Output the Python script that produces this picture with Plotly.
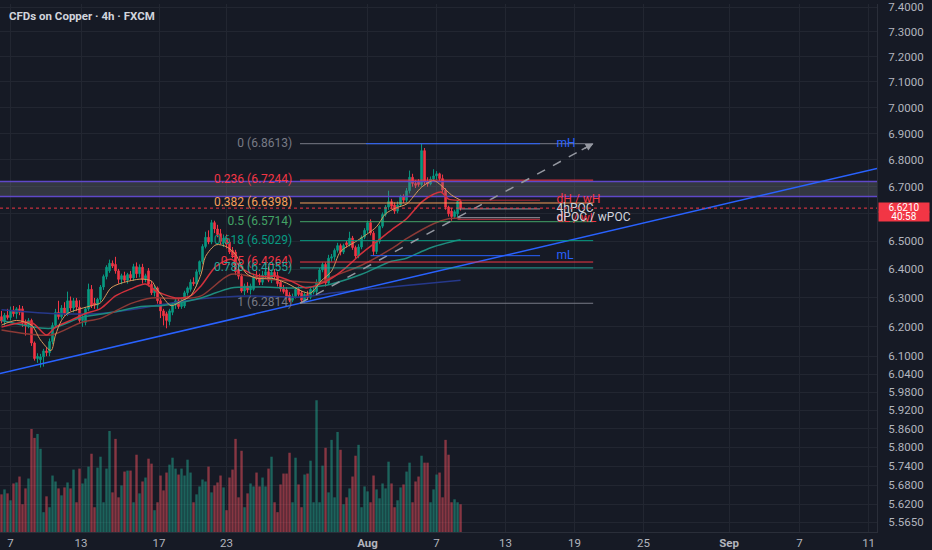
import math
import plotly.graph_objects as go

# TradingView dark theme colours
BG = "#161a25"
GRID = "#222631"
AXIS_TXT = "#b2b5be"
UP = "#089981"
DOWN = "#f23645"
FONT = "Roboto"

# visible window: bar index on x, log price on y
X_LO, X_HI = -0.5, 291.8
P_LO, P_HI = 5.5346, 7.4127

# ---- 4h candles, bar 0 = first visible bar ----
opens = [
    6.235, 6.220, 6.240, 6.232, 6.258, 6.245, 6.262, 6.262, 6.212, 6.205,
    6.222, 6.145, 6.092, 6.088, 6.098, 6.118, 6.112, 6.150, 6.205, 6.250,
    6.235, 6.265, 6.245, 6.290, 6.265, 6.290, 6.268, 6.222, 6.215, 6.262,
    6.330, 6.282, 6.275, 6.295, 6.338, 6.375, 6.395, 6.422, 6.418, 6.395,
    6.365, 6.378, 6.362, 6.382, 6.370, 6.410, 6.385, 6.408, 6.365, 6.395,
    6.348, 6.318, 6.335, 6.290, 6.255, 6.245, 6.218, 6.250, 6.275, 6.290,
    6.270, 6.272, 6.318, 6.330, 6.355, 6.350, 6.392, 6.428, 6.482, 6.515,
    6.498, 6.568, 6.545, 6.528, 6.495, 6.512, 6.498, 6.468, 6.462, 6.400,
    6.376, 6.324, 6.342, 6.328, 6.330, 6.376, 6.372, 6.355, 6.380, 6.392,
    6.362, 6.390, 6.378, 6.355, 6.332, 6.328, 6.310, 6.292, 6.305, 6.330,
    6.318, 6.290, 6.312, 6.302, 6.320, 6.322, 6.355, 6.398, 6.418, 6.352,
    6.440, 6.445, 6.468, 6.485, 6.462, 6.495, 6.488, 6.512, 6.478, 6.448,
    6.480, 6.515, 6.540, 6.568, 6.530, 6.464, 6.500, 6.555, 6.598, 6.625,
    6.645, 6.632, 6.610, 6.632, 6.662, 6.650, 6.685, 6.735, 6.712, 6.718,
    6.708, 6.835, 6.718, 6.710, 6.728, 6.740, 6.748, 6.730, 6.688, 6.625,
    6.610, 6.590, 6.600, 6.645,
]
highs = [
    6.255, 6.248, 6.262, 6.270, 6.272, 6.268, 6.275, 6.272, 6.225, 6.230,
    6.228, 6.150, 6.110, 6.108, 6.125, 6.130, 6.160, 6.215, 6.262, 6.290,
    6.275, 6.285, 6.322, 6.305, 6.300, 6.300, 6.292, 6.240, 6.268, 6.350,
    6.345, 6.300, 6.300, 6.345, 6.382, 6.415, 6.435, 6.432, 6.445, 6.402,
    6.385, 6.392, 6.388, 6.395, 6.420, 6.425, 6.418, 6.420, 6.385, 6.405,
    6.360, 6.345, 6.340, 6.298, 6.262, 6.252, 6.262, 6.285, 6.300, 6.298,
    6.300, 6.325, 6.340, 6.365, 6.372, 6.400, 6.432, 6.490, 6.535, 6.540,
    6.578, 6.575, 6.560, 6.545, 6.525, 6.525, 6.510, 6.480, 6.470, 6.410,
    6.385, 6.350, 6.355, 6.350, 6.385, 6.395, 6.385, 6.395, 6.405, 6.410,
    6.400, 6.402, 6.392, 6.362, 6.345, 6.338, 6.320, 6.315, 6.338, 6.340,
    6.325, 6.318, 6.325, 6.338, 6.342, 6.365, 6.405, 6.425, 6.425, 6.452,
    6.455, 6.475, 6.495, 6.492, 6.492, 6.502, 6.535, 6.520, 6.485, 6.490,
    6.522, 6.548, 6.575, 6.580, 6.538, 6.505, 6.560, 6.605, 6.632, 6.685,
    6.655, 6.642, 6.645, 6.670, 6.672, 6.695, 6.760, 6.748, 6.725, 6.728,
    6.8613, 6.845, 6.735, 6.738, 6.765, 6.758, 6.752, 6.745, 6.695, 6.630,
    6.622, 6.615, 6.650, 6.652,
]
lows = [
    6.212, 6.205, 6.225, 6.222, 6.235, 6.228, 6.240, 6.200, 6.170, 6.195,
    6.135, 6.085, 6.078, 6.062, 6.065, 6.100, 6.100, 6.140, 6.195, 6.225,
    6.228, 6.238, 6.238, 6.255, 6.250, 6.255, 6.210, 6.200, 6.205, 6.255,
    6.265, 6.262, 6.262, 6.285, 6.328, 6.365, 6.388, 6.405, 6.385, 6.350,
    6.348, 6.355, 6.350, 6.360, 6.360, 6.370, 6.372, 6.350, 6.355, 6.340,
    6.310, 6.305, 6.280, 6.230, 6.205, 6.195, 6.205, 6.240, 6.262, 6.262,
    6.262, 6.265, 6.308, 6.322, 6.342, 6.340, 6.382, 6.420, 6.475, 6.490,
    6.490, 6.530, 6.515, 6.490, 6.480, 6.475, 6.455, 6.440, 6.380, 6.365,
    6.318, 6.310, 6.318, 6.312, 6.325, 6.362, 6.345, 6.345, 6.370, 6.355,
    6.352, 6.365, 6.340, 6.322, 6.315, 6.295, 6.285, 6.285, 6.298, 6.305,
    6.284, 6.2814, 6.295, 6.295, 6.312, 6.315, 6.348, 6.390, 6.340, 6.345,
    6.428, 6.432, 6.460, 6.450, 6.455, 6.478, 6.482, 6.470, 6.440, 6.440,
    6.472, 6.508, 6.530, 6.522, 6.450, 6.455, 6.492, 6.548, 6.590, 6.615,
    6.618, 6.600, 6.602, 6.625, 6.640, 6.642, 6.675, 6.700, 6.695, 6.700,
    6.700, 6.705, 6.700, 6.705, 6.718, 6.725, 6.722, 6.680, 6.615, 6.590,
    6.575, 6.582, 6.585, 6.612,
]
closes = [
    6.220, 6.240, 6.232, 6.258, 6.245, 6.262, 6.250, 6.212, 6.205, 6.222,
    6.145, 6.092, 6.100, 6.098, 6.118, 6.112, 6.150, 6.205, 6.250, 6.235,
    6.265, 6.245, 6.290, 6.265, 6.290, 6.268, 6.222, 6.232, 6.262, 6.330,
    6.272, 6.275, 6.295, 6.338, 6.375, 6.408, 6.422, 6.412, 6.395, 6.365,
    6.378, 6.362, 6.382, 6.370, 6.410, 6.385, 6.408, 6.365, 6.378, 6.348,
    6.318, 6.335, 6.290, 6.255, 6.238, 6.222, 6.255, 6.275, 6.290, 6.270,
    6.290, 6.318, 6.335, 6.355, 6.350, 6.392, 6.428, 6.482, 6.515, 6.498,
    6.568, 6.545, 6.525, 6.500, 6.512, 6.490, 6.462, 6.450, 6.392, 6.376,
    6.324, 6.342, 6.328, 6.342, 6.376, 6.368, 6.355, 6.380, 6.392, 6.362,
    6.390, 6.375, 6.350, 6.332, 6.322, 6.305, 6.292, 6.305, 6.330, 6.312,
    6.292, 6.312, 6.302, 6.330, 6.326, 6.355, 6.398, 6.418, 6.352, 6.440,
    6.445, 6.468, 6.485, 6.462, 6.485, 6.488, 6.512, 6.478, 6.448, 6.480,
    6.515, 6.540, 6.568, 6.530, 6.464, 6.500, 6.555, 6.598, 6.625, 6.645,
    6.628, 6.610, 6.632, 6.662, 6.650, 6.685, 6.735, 6.712, 6.705, 6.708,
    6.835, 6.718, 6.710, 6.728, 6.740, 6.748, 6.730, 6.688, 6.625, 6.600,
    6.590, 6.608, 6.645, 6.621,
]
volumes = [
    380, 430, 390, 320, 490, 500, 560, 280, 440, 540,
    1040, 950, 990, 840, 200, 360, 250, 570, 510, 440,
    370, 450, 500, 440, 630, 300, 640, 490, 540, 660,
    790, 250, 650, 760, 300, 640, 1020, 400, 940, 350,
    470, 610, 620, 620, 300, 780, 390, 510, 550, 740,
    690, 220, 300, 570, 420, 600, 680, 750, 640, 580,
    640, 570, 730, 600, 300, 380, 460, 530, 510, 660,
    400, 470, 500, 570, 450, 220, 550, 630, 940, 350,
    820, 250, 390, 490, 460, 600, 460, 550, 460, 640,
    760, 300, 200, 480, 590, 590, 800, 300, 750, 480,
    250, 580, 590, 720, 300, 1330, 300, 670, 850, 400,
    930, 350, 1010, 830, 280, 350, 440, 560, 770, 880,
    250, 460, 410, 300, 570, 430, 340, 490, 440, 710,
    490, 250, 320, 450, 480, 610, 700, 300, 510, 560,
    770, 700, 700, 300, 430, 580, 600, 350, 930, 780,
    300, 330, 300, 280,
]
VOL_MAX = 5330

# ---- moving averages (bar index, price) ----
ma_fast_x = [0, 5, 10, 13, 16.5, 18, 20, 22, 26.5, 30, 33, 36.5, 40, 46.5, 50, 51.5,
             53, 56.5, 60, 63, 66.5, 68, 71.5, 75, 78, 81.5, 85, 90, 95, 100, 103,
             106.5, 110, 113, 118, 121.5, 125, 128, 131.5, 135, 140, 144, 146.5, 150, 153]
ma_fast_y = [6.206, 6.222, 6.206, 6.155, 6.119, 6.172, 6.222, 6.246, 6.263, 6.273, 6.283,
             6.335, 6.352, 6.366, 6.359, 6.335, 6.314, 6.273, 6.290, 6.307, 6.383, 6.446,
             6.488, 6.481, 6.453, 6.387, 6.369, 6.369, 6.352, 6.324, 6.317, 6.359, 6.394,
             6.464, 6.499, 6.524, 6.553, 6.600, 6.622, 6.636, 6.698, 6.723, 6.705, 6.669, 6.650]

ma_mid_x = [0, 10, 15, 18, 23, 28, 33, 38, 43, 48, 51.5, 53, 58, 63, 66.5, 71.5, 76.5,
            81.5, 86.5, 91.5, 96.5, 101.5, 104.5, 110, 114.5, 120, 125, 130, 135, 140,
            144, 146.5, 149, 153]
ma_mid_y = [6.199, 6.215, 6.172, 6.199, 6.222, 6.246, 6.263, 6.307, 6.331, 6.349, 6.324,
            6.317, 6.300, 6.307, 6.342, 6.411, 6.436, 6.394, 6.376, 6.376, 6.359, 6.335,
            6.342, 6.369, 6.404, 6.457, 6.499, 6.542, 6.582, 6.643, 6.672, 6.680, 6.654, 6.650]

ma_slow_x = [0, 16.5, 26.5, 33, 43, 50, 60, 66.5, 76.5, 86.5, 96.5, 106.5, 110, 120,
             130, 135, 144, 149, 153]
ma_slow_y = [6.189, 6.172, 6.215, 6.229, 6.280, 6.300, 6.297, 6.307, 6.383, 6.369, 6.359,
             6.355, 6.373, 6.415, 6.474, 6.510, 6.564, 6.582, 6.585]

ma_long_x = [0, 16.5, 26.5, 36.5, 46.5, 53, 66.5, 76.5, 86.5, 96.5, 106.5, 110, 120,
             130, 135, 140, 144, 150, 153]
ma_long_y = [6.222, 6.195, 6.232, 6.249, 6.270, 6.273, 6.300, 6.335, 6.338, 6.335, 6.342,
             6.349, 6.383, 6.429, 6.440, 6.464, 6.481, 6.499, 6.506]

ma_base_x = [0, 16.5, 33, 43, 53, 66.5, 83, 100, 110, 133, 153]
ma_base_y = [6.259, 6.246, 6.246, 6.259, 6.276, 6.297, 6.307, 6.303, 6.317, 6.342, 6.362]

# ---- drawings ----
fib_ratios = ["0", "0.236", "0.382", "0.5", "0.618", "0.75", "0.786", "1"]
fib_prices = [6.8613, 6.7244, 6.6398, 6.5714, 6.5029, 6.4264, 6.4055, 6.2814]
fib_colors = ["#787b86", "#f23645", "#f5a05a", "#43a366", "#089981", "#f23645",
              "#26a69a", "#787b86"]
fib_x = [99.5, 197.2]          # anchor bars of the retracement

level_names = ["mH", "mL", "dH / wH", "4hPOC", "dL / wL", "dPOC / wPOC"]
level_prices = [6.8613, 6.449, 6.650, 6.618, 6.580, 6.586]
level_start = [121.5, 123.0, 152.5, 152.5, 152.0, 152.0]
level_end = 179.5
level_colors = ["#2962ff", "#2962ff", "#b22833", "#9598a1", "#c0303c", "#9598a1"]
level_text_colors = ["#2962ff", "#2962ff", "#f23645", "#d1d4dc", "#f23645", "#d1d4dc"]
level_label_x = 185.0

zone_prices = [6.664, 6.719]   # grey supply box
trend_x = [X_LO, X_HI]
trend_y = [6.042, 6.768]       # rising support line

last_price = closes[-1]
countdown = "40:58"

tick_bars = [3, 26.5, 52.5, 75, 122, 145, 168, 191, 214, 242.5, 266, 289]
tick_labels = ["7", "13", "17", "23", "<b>Aug</b>", "7", "13", "19", "25", "<b>Sep</b>", "7", "11"]
price_ticks = [7.4, 7.3, 7.2, 7.1, 7.0, 6.9, 6.8, 6.7, 6.6, 6.5, 6.4, 6.3, 6.2, 6.1,
               6.04, 5.98, 5.92, 5.86, 5.80, 5.74, 5.68, 5.62, 5.565]

bars = list(range(len(closes)))
LOG_LO, LOG_HI = math.log10(P_LO), math.log10(P_HI)


def yfrac(p):
    return (math.log10(p) - LOG_LO) / (LOG_HI - LOG_LO)


fig = go.Figure()

# volume overlay at the bottom of the pane
vol_colors = ["rgba(34,171,148,0.5)" if c >= o else "rgba(247,82,95,0.5)"
              for o, c in zip(opens, closes)]
fig.add_trace(go.Bar(x=bars, y=volumes, yaxis="y2", marker_color=vol_colors,
                     marker_line_width=0, hoverinfo="skip"))

# grey zone with purple top / bottom borders
fig.add_trace(go.Scatter(
    x=[X_LO, X_HI, X_HI, X_LO, X_LO],
    y=[zone_prices[0], zone_prices[0], zone_prices[1], zone_prices[1], zone_prices[0]],
    fill="toself", fillcolor="rgba(120,123,134,0.30)", mode="none", hoverinfo="skip"))
for zp in zone_prices:
    fig.add_trace(go.Scatter(x=[X_LO, X_HI], y=[zp, zp], mode="lines",
                             line=dict(color="#5f48c8", width=1.5), hoverinfo="skip"))

# candles
fig.add_trace(go.Candlestick(
    x=bars, open=opens, high=highs, low=lows, close=closes,
    increasing=dict(line=dict(color=UP, width=1), fillcolor=UP),
    decreasing=dict(line=dict(color=DOWN, width=1), fillcolor=DOWN),
    whiskerwidth=0, hoverinfo="skip"))

# moving averages
for mx, my, col, w in [
    (ma_base_x, ma_base_y, "#26388a", 1.5),
    (ma_long_x, ma_long_y, "#1e8c7e", 1.5),
    (ma_slow_x, ma_slow_y, "#8c3a36", 1.5),
    (ma_mid_x, ma_mid_y, "#d2313c", 1.5),
    (ma_fast_x, ma_fast_y, "#d89a5b", 1),
]:
    fig.add_trace(go.Scatter(x=mx, y=my, mode="lines",
                             line=dict(color=col, width=w, shape="spline", smoothing=0.8),
                             hoverinfo="skip"))

# trend line
fig.add_trace(go.Scatter(x=trend_x, y=trend_y, mode="lines",
                         line=dict(color="#2962ff", width=1.5), hoverinfo="skip"))

# fibonacci levels
for r, p, col in zip(fib_ratios, fib_prices, fib_colors):
    fig.add_trace(go.Scatter(x=fib_x, y=[p, p], mode="lines",
                             line=dict(color=col, width=1), hoverinfo="skip"))
    fig.add_trace(go.Scatter(x=[fib_x[0] - 2.6], y=[p], mode="text",
                             text=[f"{r} ({p:.4f})"], textposition="middle left",
                             textfont=dict(color=col, size=12, family=FONT),
                             hoverinfo="skip", cliponaxis=False))

# dashed retracement line
fig.add_trace(go.Scatter(x=fib_x, y=[fib_prices[-1], fib_prices[0]], mode="lines",
                         line=dict(color="#9598a1", width=1.5, dash="dash"),
                         hoverinfo="skip"))

# key levels
for name, p, x0, col, tcol in zip(level_names, level_prices, level_start,
                                   level_colors, level_text_colors):
    fig.add_trace(go.Scatter(x=[x0, level_end], y=[p, p], mode="lines",
                             line=dict(color=col, width=1), hoverinfo="skip"))
    fig.add_trace(go.Scatter(x=[level_label_x], y=[p], mode="text", text=[name],
                             textposition="middle right",
                             textfont=dict(color=tcol, size=12, family=FONT),
                             hoverinfo="skip", cliponaxis=False))

# current price line
fig.add_trace(go.Scatter(x=[X_LO, X_HI], y=[last_price, last_price], mode="lines",
                         line=dict(color=DOWN, width=1, dash="dot"), hoverinfo="skip"))

fig.update_layout(
    width=932, height=550,
    margin=dict(l=0, r=55, t=0, b=17),
    paper_bgcolor=BG, plot_bgcolor=BG,
    showlegend=False,
    font=dict(family=FONT, color=AXIS_TXT, size=11),
    xaxis=dict(range=[X_LO, X_HI], tickvals=tick_bars, ticktext=tick_labels,
               showgrid=True, gridcolor=GRID, zeroline=False, showline=True,
               linecolor="#2a2e39", ticks="", rangeslider=dict(visible=False),
               tickfont=dict(size=11.5, color=AXIS_TXT), fixedrange=True),
    yaxis=dict(type="log", range=[LOG_LO, LOG_HI], side="right",
               tickvals=price_ticks, ticktext=[f"{v:.4f}" for v in price_ticks],
               showgrid=True, gridcolor=GRID, zeroline=False, showline=True,
               linecolor="#2a2e39", ticks="", ticklabelstandoff=8,
               ticklabeloverflow="allow",
               tickfont=dict(size=11.5, color=AXIS_TXT)),
    yaxis2=dict(overlaying="y", range=[0, VOL_MAX], visible=False),
    annotations=[
        dict(text="CFDs on Copper · 4h · FXCM", xref="paper", yref="paper", x=0, y=1,
             xanchor="left", yanchor="top", xshift=7, yshift=-3, showarrow=False,
             font=dict(size=11.5, color="#d1d4dc", family=FONT, weight="bold")),
        dict(text=f"{last_price:.4f}", xref="paper", yref="paper", x=1, y=yfrac(last_price),
             xanchor="left", yanchor="middle", xshift=1, yshift=1, showarrow=False,
             width=50, height=9, bgcolor=DOWN, borderpad=0,
             font=dict(size=10, color="white", family=FONT)),
        dict(text=countdown, xref="paper", yref="paper", x=1, y=yfrac(last_price),
             xanchor="left", yanchor="middle", xshift=1, yshift=-8, showarrow=False,
             width=50, height=9, bgcolor=DOWN, borderpad=0,
             font=dict(size=10, color="white", family=FONT)),
        dict(text="", xref="x", yref="paper", x=fib_x[1], y=yfrac(fib_prices[0]),
             ax=-13, ay=7, showarrow=True, arrowhead=2, arrowsize=1, arrowwidth=1.5,
             arrowcolor="#9598a1"),
    ],
)

fig.write_html("out.html", config={"displayModeBar": False},
               post_script="document.body.style.margin='0';document.body.style.background='#161a25';")
